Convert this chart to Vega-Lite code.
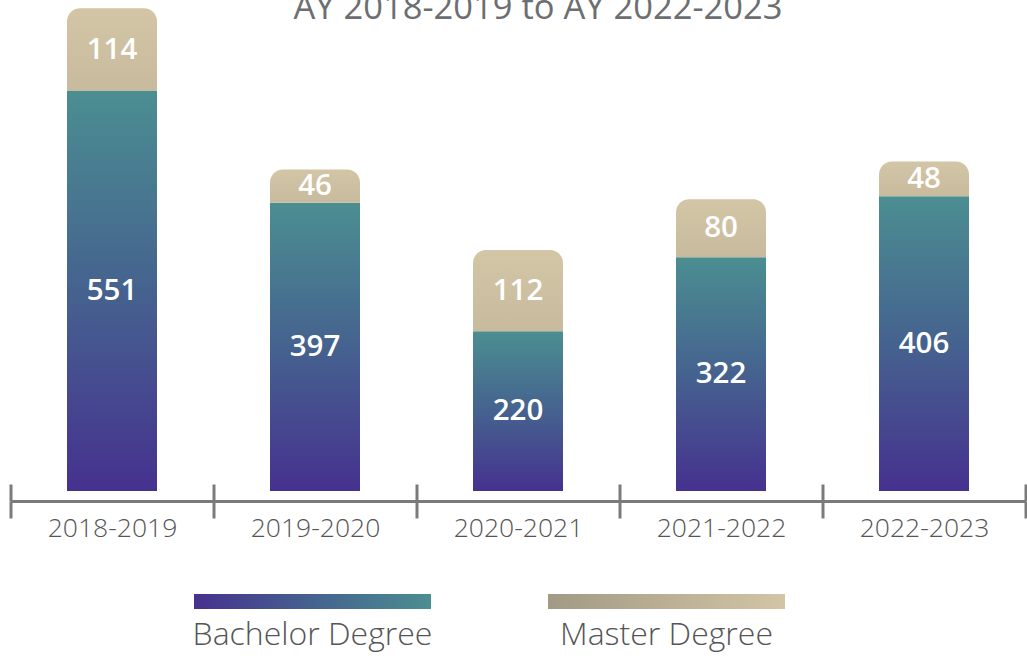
{
  "$schema": "https://vega.github.io/schema/vega-lite/v6.json",
  "autosize": {"type": "pad"},
  "padding": {"left": 8.5, "top": -10, "right": 0, "bottom": 12},
  "background": "white",
  "config": {"view": {"stroke": null}},
  "title": {
    "text": "AY 2018-2019 to AY 2022-2023",
    "font": "Open Sans",
    "fontSize": 34.5,
    "fontWeight": "normal",
    "color": "#6d6e71",
    "offset": -20,
    "dy": 32,
    "dx": 20,
    "baseline": "alphabetic",
    "anchor": "middle"
  },
  "datasets": {
    "enrol": [
      {"year": "2018-2019", "degree": "Bachelor Degree", "value": 551},
      {"year": "2018-2019", "degree": "Master Degree", "value": 114},
      {"year": "2019-2020", "degree": "Bachelor Degree", "value": 397},
      {"year": "2019-2020", "degree": "Master Degree", "value": 46},
      {"year": "2020-2021", "degree": "Bachelor Degree", "value": 220},
      {"year": "2020-2021", "degree": "Master Degree", "value": 112},
      {"year": "2021-2022", "degree": "Bachelor Degree", "value": 322},
      {"year": "2021-2022", "degree": "Master Degree", "value": 80},
      {"year": "2022-2023", "degree": "Bachelor Degree", "value": 406},
      {"year": "2022-2023", "degree": "Master Degree", "value": 48}
    ],
    "legend": [
      {"degree": "Bachelor Degree"},
      {"degree": "Master Degree"}
    ]
  },
  "vconcat": [
    {
      "width": 1015,
      "height": 490,
      "data": {"name": "enrol"},
      "layer": [
        {
          "transform": [
            {"stack": "value", "groupby": ["year"], "sort": [{"field": "degree", "order": "ascending"}], "as": ["y0", "y1"]},
            {"filter": "datum.degree === 'Bachelor Degree'"}
          ],
          "mark": {
            "type": "bar",
            "size": 90,
            "fill": {
              "gradient": "linear", "x1": 0, "y1": 1, "x2": 0, "y2": 0,
              "stops": [{"offset": 0, "color": "#46318f"}, {"offset": 0.5, "color": "#45628f"}, {"offset": 1, "color": "#4b8e91"}]
            }
          },
          "encoding": {
            "x": {
              "field": "year", "type": "nominal", "sort": null,
              "scale": {"paddingInner": 0, "paddingOuter": 0},
              "axis": {
                "orient": "bottom", "title": null, "offset": 10,
                "domain": true, "domainColor": "#7b7b7b", "domainWidth": 3,
                "ticks": true, "tickBand": "extent", "tickSize": 17, "tickColor": "#7b7b7b", "tickWidth": 3,
                "labels": true, "labelAngle": 0, "labelFont": "Open Sans", "labelFontWeight": 300,
                "labelFontSize": 26.5, "labelColor": "#555555", "labelPadding": -3, "labelBaseline": "top"
              }
            },
            "y": {"field": "y0", "type": "quantitative", "scale": {"domain": [0, 675], "nice": false}, "axis": null},
            "y2": {"field": "y1"}
          }
        },
        {
          "transform": [
            {"stack": "value", "groupby": ["year"], "sort": [{"field": "degree", "order": "ascending"}], "as": ["y0", "y1"]},
            {"filter": "datum.degree === 'Master Degree'"}
          ],
          "mark": {
            "type": "bar",
            "size": 90,
            "cornerRadiusTopLeft": 13,
            "cornerRadiusTopRight": 13,
            "fill": {
              "gradient": "linear", "x1": 0, "y1": 1, "x2": 0, "y2": 0,
              "stops": [{"offset": 0, "color": "#c8bb9d"}, {"offset": 1, "color": "#d3c6a7"}]
            }
          },
          "encoding": {
            "x": {"field": "year", "type": "nominal", "sort": null, "axis": null},
            "y": {"field": "y0", "type": "quantitative", "axis": null},
            "y2": {"field": "y1"}
          }
        },
        {
          "mark": {"type": "text", "color": "white", "font": "Open Sans", "fontWeight": 600, "fontSize": 29.5, "baseline": "middle"},
          "encoding": {
            "x": {
              "field": "year", "type": "nominal", "sort": null,
              "axis": {
                "orient": "bottom", "title": null, "offset": 10,
                "domain": false, "labels": false, "grid": false,
                "ticks": true, "tickBand": "extent", "tickSize": -17, "tickColor": "#7b7b7b", "tickWidth": 3
              }
            },
            "y": {"field": "value", "type": "quantitative", "stack": "zero", "bandPosition": 0.5, "axis": null},
            "order": {"field": "degree", "sort": "ascending"},
            "text": {"field": "value", "type": "quantitative"}
          }
        }
      ],
      "resolve": {"axis": {"x": "independent"}}
    },
    {
      "width": 958,
      "height": 15,
      "data": {"name": "legend"},
      "layer": [
        {
          "transform": [{"filter": "datum.degree === 'Bachelor Degree'"}],
          "mark": {
            "type": "bar", "orient": "vertical", "width": {"band": 0.6695},
            "fill": {
              "gradient": "linear", "x1": 0, "y1": 0, "x2": 1, "y2": 0,
              "stops": [{"offset": 0, "color": "#46318f"}, {"offset": 0.5, "color": "#45628f"}, {"offset": 1, "color": "#4b8e91"}]
            }
          },
          "encoding": {
            "x": {
              "field": "degree", "type": "nominal", "sort": null,
              "scale": {"paddingInner": 0, "paddingOuter": 0.3531},
              "axis": {
                "orient": "bottom", "title": null, "domain": false, "ticks": false, "grid": false,
                "labelAngle": 0, "labelFont": "Open Sans", "labelFontWeight": 300, "labelFontSize": 32,
                "labelColor": "#555555", "labelPadding": 10, "labelBaseline": "top", "labelLimit": 0
              }
            }
          }
        },
        {
          "transform": [{"filter": "datum.degree === 'Master Degree'"}],
          "mark": {
            "type": "bar", "orient": "vertical", "width": {"band": 0.6695},
            "fill": {
              "gradient": "linear", "x1": 0, "y1": 0, "x2": 1, "y2": 0,
              "stops": [{"offset": 0, "color": "#a29a84"}, {"offset": 1, "color": "#d3c5a5"}]
            }
          },
          "encoding": {
            "x": {"field": "degree", "type": "nominal", "sort": null}
          }
        }
      ]
    }
  ],
  "spacing": 52
}
